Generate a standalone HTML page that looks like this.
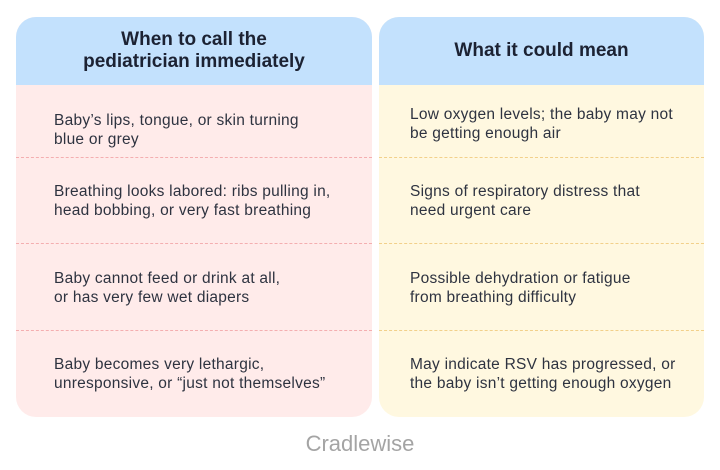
<!DOCTYPE html>
<html><head><style>
body{margin:0;width:720px;height:470px;background:#fff;font-family:"Liberation Sans",sans-serif;position:relative;overflow:hidden}
.col{position:absolute;top:17px;height:400px;border-radius:20px;overflow:hidden}
.hd{position:absolute;left:0;right:0;top:0;height:68px;background:#c3e1fd;display:flex;align-items:center;justify-content:center;text-align:center;font-weight:bold;font-size:19px;line-height:22px;color:#1c2233}
.t{position:absolute;font-size:15.5px;letter-spacing:0.25px;line-height:19px;color:#2e3340;white-space:nowrap}
.d{position:absolute;left:0;right:0;height:0;border-top:1px dashed}
</style></head><body>
<div class="col" style="left:16px;width:356px;background:#ffebea">
<div class="hd">When to call the<br>pediatrician immediately</div>
<div class="d" style="top:140px;border-color:#f4aeb0"></div>
<div class="d" style="top:226px;border-color:#f4aeb0"></div>
<div class="d" style="top:313px;border-color:#f4aeb0"></div>
<div class="t" style="left:38px;top:94px">Baby’s lips, tongue, or skin turning<br>blue or grey</div>
<div class="t" style="left:38px;top:165px">Breathing looks labored: ribs pulling in,<br>head bobbing, or very fast breathing</div>
<div class="t" style="left:38px;top:252px">Baby cannot feed or drink at all,<br>or has very few wet diapers</div>
<div class="t" style="left:38px;top:338px">Baby becomes very lethargic,<br>unresponsive, or “just not themselves”</div>
</div>
<div class="col" style="left:379px;width:325px;background:#fff8e0">
<div class="hd">What it could mean</div>
<div class="d" style="top:140px;border-color:#f2d08a"></div>
<div class="d" style="top:226px;border-color:#f2d08a"></div>
<div class="d" style="top:313px;border-color:#f2d08a"></div>
<div class="t" style="left:31px;top:88px">Low oxygen levels; the baby may not<br>be getting enough air</div>
<div class="t" style="left:31px;top:165px">Signs of respiratory distress that<br>need urgent care</div>
<div class="t" style="left:31px;top:252px">Possible dehydration or fatigue<br>from breathing difficulty</div>
<div class="t" style="left:31px;top:338px">May indicate RSV has progressed, or<br>the baby isn’t getting enough oxygen</div>
</div>
<div style="position:absolute;left:0;width:720px;top:431px;text-align:center;font-size:22px;color:#a4a4a4">Cradlewise</div>
</body></html>
